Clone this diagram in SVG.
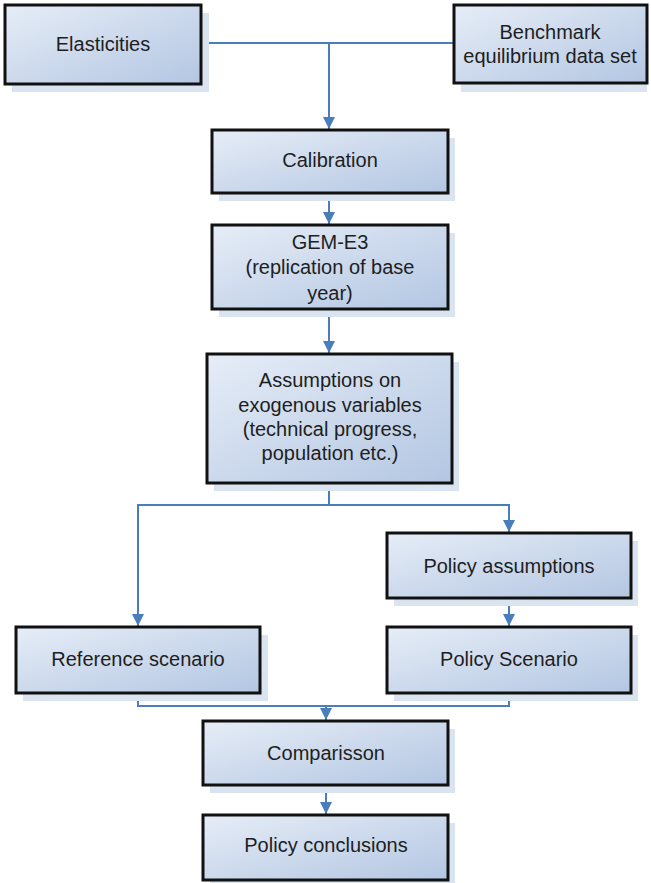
<svg xmlns="http://www.w3.org/2000/svg" width="651" height="883" viewBox="0 0 651 883">
  <defs>
    <linearGradient id="boxFill" x1="0" y1="0" x2="1" y2="1">
      <stop offset="0" stop-color="#e6edf7"/>
      <stop offset="1" stop-color="#b3c6e2"/>
    </linearGradient>
    <marker id="arrow" viewBox="0 0 10 10" refX="10" refY="5" markerWidth="12" markerHeight="12" markerUnits="userSpaceOnUse" orient="auto">
      <path d="M0,0 L10,5 L0,10 Z" fill="#4a7ebb"/>
    </marker>
    <style>
      .shadow { fill: #dae3f0; }
      .box { fill: url(#boxFill); stroke: #111; stroke-width: 3; }
      .label { font-family: "Liberation Sans", Arial, sans-serif; font-size: 20px; fill: #1e1e1e; text-anchor: middle; }
      .conn { fill: none; stroke: #4a7ebb; stroke-width: 2; }
    </style>
  </defs>

  <!-- connectors -->
  <g id="connectors">
    <path class="conn" d="M201,43 H454"/>
    <path class="conn" d="M329,43 V129" marker-end="url(#arrow)"/>
    <path class="conn" d="M329,193 V224" marker-end="url(#arrow)"/>
    <path class="conn" d="M329,309 V353" marker-end="url(#arrow)"/>
    <path class="conn" d="M329,483 V505 H138 V626" marker-end="url(#arrow)"/>
    <path class="conn" d="M329,505 H509 V532" marker-end="url(#arrow)"/>
    <path class="conn" d="M509,598 V626" marker-end="url(#arrow)"/>
    <path class="conn" d="M138,693 V706 H509 V693"/>
    <path class="conn" d="M326,706 V720" marker-end="url(#arrow)"/>
    <path class="conn" d="M326,785 V814" marker-end="url(#arrow)"/>
  </g>

  <g id="elasticities">
    <rect class="shadow" x="12" y="13" width="197" height="79"/>
    <rect class="box" x="5" y="5" width="196" height="79"/>
    <text class="label" x="103" y="51">Elasticities</text>
  </g>

  <g id="benchmark">
    <rect class="shadow" x="461" y="13" width="186" height="79"/>
    <rect class="box" x="454" y="5" width="193" height="78"/>
    <text class="label" x="550" y="39">Benchmark</text>
    <text class="label" x="550" y="63">equilibrium data set</text>
  </g>

  <g id="calibration">
    <rect class="shadow" x="219" y="138" width="236" height="63"/>
    <rect class="box" x="212" y="130" width="236" height="63"/>
    <text class="label" x="330" y="167">Calibration</text>
  </g>

  <g id="gem-e3">
    <rect class="shadow" x="219" y="233" width="236" height="84"/>
    <rect class="box" x="212" y="225" width="236" height="84"/>
    <text class="label" x="330" y="249">GEM-E3</text>
    <text class="label" x="330" y="274">(replication of base</text>
    <text class="label" x="330" y="300">year)</text>
  </g>

  <g id="assumptions">
    <rect class="shadow" x="214" y="362" width="245" height="129"/>
    <rect class="box" x="207" y="354" width="245" height="129"/>
    <text class="label" x="330" y="387">Assumptions on</text>
    <text class="label" x="330" y="412">exogenous variables</text>
    <text class="label" x="330" y="436">(technical progress,</text>
    <text class="label" x="330" y="460">population etc.)</text>
  </g>

  <g id="policy-assumptions">
    <rect class="shadow" x="394" y="541" width="244" height="65"/>
    <rect class="box" x="387" y="533" width="244" height="65"/>
    <text class="label" x="509" y="573">Policy assumptions</text>
  </g>

  <g id="reference-scenario">
    <rect class="shadow" x="23" y="635" width="245" height="66"/>
    <rect class="box" x="16" y="627" width="244" height="66"/>
    <text class="label" x="138" y="666">Reference scenario</text>
  </g>

  <g id="policy-scenario">
    <rect class="shadow" x="394" y="635" width="244" height="66"/>
    <rect class="box" x="387" y="627" width="244" height="66"/>
    <text class="label" x="509" y="666">Policy Scenario</text>
  </g>

  <g id="comparisson">
    <rect class="shadow" x="210" y="729" width="245" height="64"/>
    <rect class="box" x="203" y="721" width="245" height="64"/>
    <text class="label" x="326" y="760">Comparisson</text>
  </g>

  <g id="policy-conclusions">
    <rect class="shadow" x="210" y="823" width="245" height="60"/>
    <rect class="box" x="203" y="815" width="245" height="65"/>
    <text class="label" x="326" y="852">Policy conclusions</text>
  </g>
</svg>
